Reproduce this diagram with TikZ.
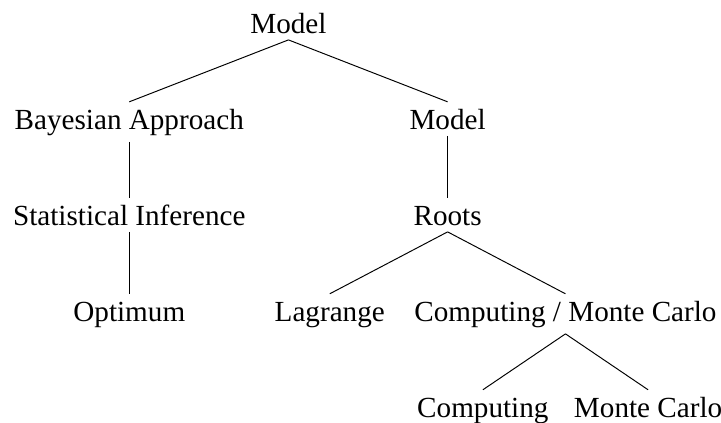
\documentclass[tikz,border=0pt]{standalone}
\usepackage{fontspec}
\setmainfont{Liberation Serif}
\usepackage{tikz}

\begin{document}
\begin{tikzpicture}[level distance=39.5pt,
level 1/.style={sibling distance=131pt},
level 3/.style={sibling distance=97pt},
level 4/.style={sibling distance=68pt},
every node/.style={inner sep=2.5pt, text height=8.5pt, anchor=base},
growth parent anchor=base, parent anchor=south, child anchor=north,
font=\fontsize{12}{14}\selectfont]
\useasboundingbox (-118.7pt,13.6pt) rectangle (178pt,-160.4pt);
\node (model) {Model} child { node (bayes) {Bayesian Approach} child { node (stat) {Statistical Inference}
child { node (optimum) {Optimum} } } } child { node (model2) {Model} child { node (roots) {Roots}
child { node (lagrange) {Lagrange} } child { node (compmc) {Computing / Monte Carlo}
child { node (computing) {Computing} } child { node (montecarlo) {Monte Carlo} } } } } ;
\end{tikzpicture}
\end{document}
